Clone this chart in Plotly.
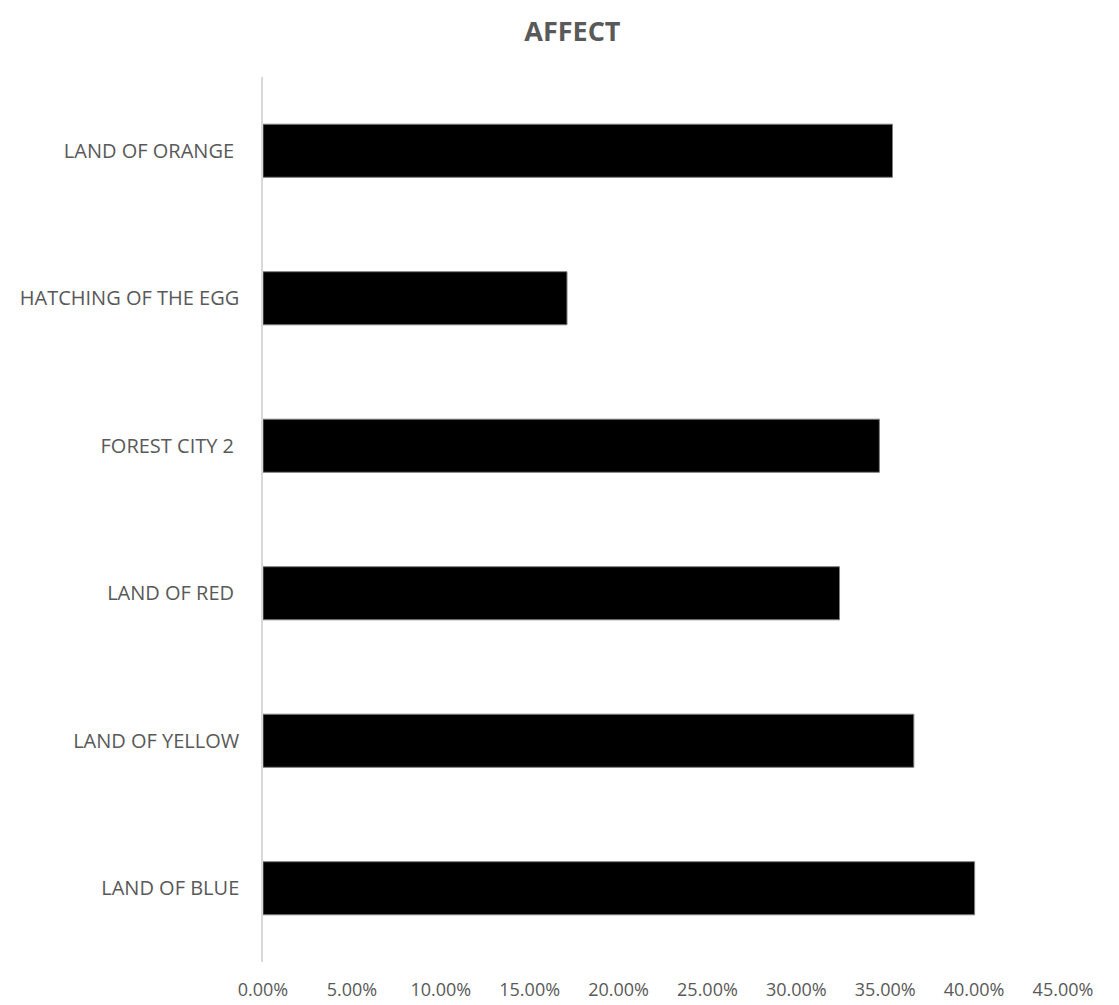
import plotly.graph_objects as go

categories = ["LAND OF BLUE", "LAND OF YELLOW", "LAND OF RED ", "FOREST CITY 2 ", "HATCHING OF THE EGG", "LAND OF ORANGE "]
values = [0.4003, 0.3661, 0.3243, 0.3467, 0.1710, 0.3541]
x_ticks = [0, 0.05, 0.10, 0.15, 0.20, 0.25, 0.30, 0.35, 0.40, 0.45]

fig = go.Figure(go.Bar(
    y=categories, x=values, orientation="h",
    marker=dict(color="#000000", line=dict(color="#7f7f7f", width=1)),
))

font_family = "Open Sans, Liberation Sans, sans-serif"
W, H = 1111, 997
fig.update_layout(
    width=W, height=H,
    margin=dict(l=255, r=56, t=69, b=43),
    paper_bgcolor="white", plot_bgcolor="white",
    bargap=0.64,
    showlegend=False,
    title=dict(text="<b>AFFECT</b>", x=0.508, xanchor="center", y=1 - 24 / H, yanchor="middle",
               font=dict(family=font_family, size=27, color="#595959")),
    font=dict(family=font_family, color="#595959"),
)
fig.update_xaxes(
    range=[0, 0.45], tickvals=x_ticks, tickformat=".2%",
    showgrid=False, zeroline=False, showline=False, automargin=False,
    ticks="outside", ticklen=11, tickcolor="rgba(0,0,0,0)",
    tickfont=dict(size=18, color="#595959"),
)
fig.update_yaxes(
    showgrid=False, zeroline=False, showline=True, linecolor="#d9d9d9", linewidth=1.5,
    automargin=False,
    ticks="outside", ticklen=18, tickcolor="rgba(0,0,0,0)",
    tickfont=dict(size=20, color="#595959"),
)

fig.write_html("out.html")
